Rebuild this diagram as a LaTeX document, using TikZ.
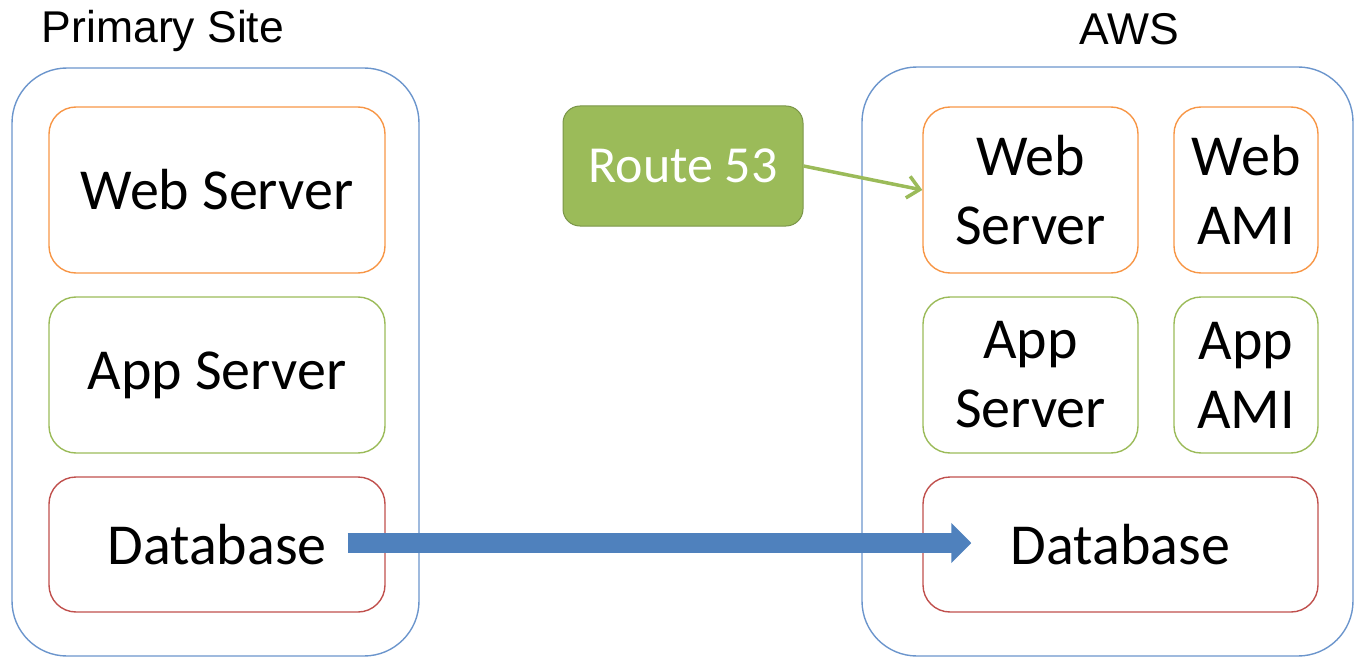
\documentclass[tikz,border=0pt]{standalone}
\usepackage{fontspec}
\setmainfont{Carlito}
\newfontfamily\arialf{Liberation Sans}
\usetikzlibrary{arrows.meta,calc}
\definecolor{cblue}{HTML}{4F81BD}
\definecolor{cblueline}{HTML}{6B95CC}
\definecolor{corange}{HTML}{F79646}
\definecolor{cgreen}{HTML}{9BBB59}
\definecolor{cgreendark}{HTML}{7A9548}
\definecolor{cred}{HTML}{C0504D}
\tikzset{
  container/.style={draw=cblueline, line width=1.4pt, rounded corners=55pt, inner sep=0pt},
  box/.style={line width=1.4pt, rounded corners=27pt, inner sep=0pt, align=center,
    font=\fontsize{58}{69}\selectfont},
  webbox/.style={box, draw=corange},
  appbox/.style={box, draw=cgreen},
  dbbox/.style={box, draw=cred},
  title/.style={font=\arialf\fontsize{44.5}{50}\selectfont, anchor=base},
  routebox/.style={draw=cgreendark, fill=cgreen, line width=1pt, rounded corners=17pt,
    inner sep=0pt, text=white, font=\fontsize{52}{60}\selectfont},
  greenarrow/.style={draw=cgreen, line width=3.5pt, -{Straight Barb[length=12pt,width=22pt,line width=3.5pt]}},
  bigarrow/.style={draw=cblue, line width=20pt, -{Triangle[length=20pt,width=39pt]}}
}
\begin{document}
\begin{tikzpicture}[x=1pt,y=-1pt]
\useasboundingbox (0,0) rectangle (1361,658);
% titles
\node[title] (tp) at (163,43) {Primary Site};
\node[title] (ta) at (1129,45) {AWS};
% containers
\node[container, minimum width=407pt, minimum height=588pt] (cl) at (215.5,362) {};
\node[container, minimum width=491pt, minimum height=589pt] (cr) at (1107.5,361.5) {};
% left boxes
\node[webbox, minimum width=336pt, minimum height=166pt] (webL) at (217,190) {Web Server};
\node[appbox, minimum width=336pt, minimum height=156pt] (appL) at (217,375) {App Server};
\node[dbbox, minimum width=336pt, minimum height=135pt] (dbL) at (217,544.5) {Database};
% right boxes
\node[webbox, minimum width=215pt, minimum height=166pt] (webR) at (1030.5,190) {Web\\Server};
\node[webbox, minimum width=144pt, minimum height=166pt] (amiW) at (1246,190) {Web\\AMI};
\node[appbox, minimum width=215pt, minimum height=156pt] (appR) at (1030.5,375) {App\\Server};
\node[appbox, minimum width=144pt, minimum height=156pt] (amiA) at (1246,375) {App\\AMI};
\node[dbbox, minimum width=395pt, minimum height=135pt] (dbR) at (1120.5,544.5) {Database};
% route 53
\node[routebox, minimum width=240pt, minimum height=120pt] (r53) at (683,166) {Route 53};
% connectors
\draw[greenarrow] (r53.east) -- (webR.west);
\draw[bigarrow] ($(dbL.east)+(-38,-1.5)$) -- ($(dbR.west)+(49,-1.5)$);
\end{tikzpicture}
\end{document}
